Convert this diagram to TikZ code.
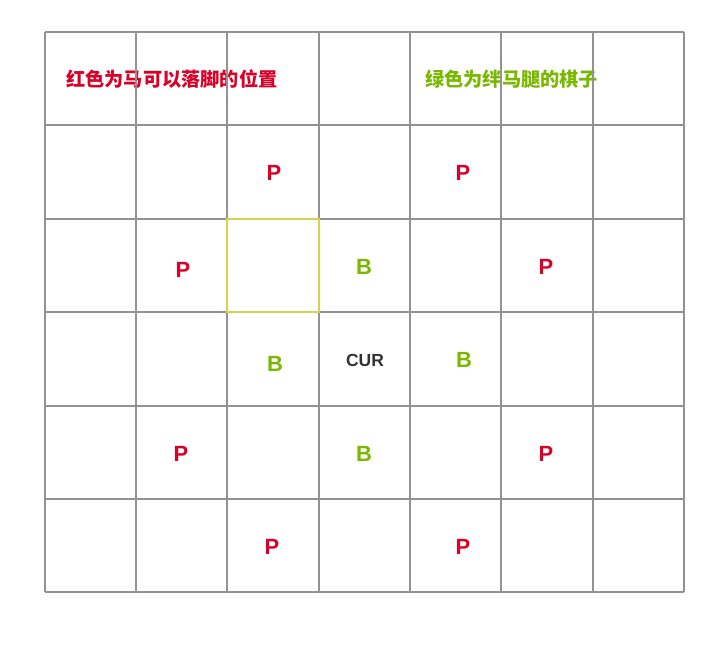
\documentclass[tikz,border=0pt]{standalone}
\usepackage{fontspec}
\setmainfont{Liberation Sans}
\newfontfamily\cjk{Noto Sans CJK SC}
\definecolor{gridgray}{RGB}{146,146,146}
\definecolor{markred}{RGB}{218,0,40}
\definecolor{legred}{RGB}{218,0,40}
\definecolor{leggreen}{RGB}{122,184,0}
\definecolor{hiyellow}{RGB}{214,210,80}
\definecolor{curgray}{RGB}{51,51,51}
\tikzset{
    landing/.style={text=markred, font=\fontsize{22}{22}\selectfont\bfseries},
    blocker/.style={text=leggreen, font=\fontsize{22}{22}\selectfont\bfseries},
    legend/.style={anchor=west, inner sep=0pt, font=\cjk\bfseries\fontsize{19.2}{20}\selectfont}
}
\begin{document}
\begin{tikzpicture}[x=1pt, y=-1pt]
    \useasboundingbox[fill=white] (0,0) rectangle (727,657);

    \node[legend, text=legred] (legendRed) at (66,79) {红色为马可以落脚的位置};
    \node[legend, text=leggreen] (legendGreen) at (425,79) {绿色为绊马腿的棋子};

    % board lines
    \foreach \x in {45,136,227,319,410,501,593,684}
        \draw[gridgray, line width=2pt] (\x,32) -- (\x,592);
    \foreach \y in {32,125,219,312,406,499,592}
        \draw[gridgray, line width=2pt] (45,\y) -- (684,\y);

    % the cell that blocks the knight
    \draw[hiyellow, line width=1.3pt] (227,219) rectangle (319,312);

    % current piece
    \node[text=curgray, font=\fontsize{17.5}{18}\selectfont\bfseries] (cur) at (365,360) {CUR};

    % blocking pieces
    \node[blocker] (bUp) at (364,267) {B};
    \node[blocker] (bLeft) at (275,364) {B};
    \node[blocker] (bRight) at (464,360) {B};
    \node[blocker] (bDown) at (364,454) {B};

    % landing squares
    \node[landing] (pUpL) at (274,173) {P};
    \node[landing] (pUpR) at (463,173) {P};
    \node[landing] (pLeftU) at (183,270) {P};
    \node[landing] (pRightU) at (546,267) {P};
    \node[landing] (pLeftD) at (181,454) {P};
    \node[landing] (pRightD) at (546,454) {P};
    \node[landing] (pDownL) at (272,547) {P};
    \node[landing] (pDownR) at (463,547) {P};
\end{tikzpicture}
\end{document}
